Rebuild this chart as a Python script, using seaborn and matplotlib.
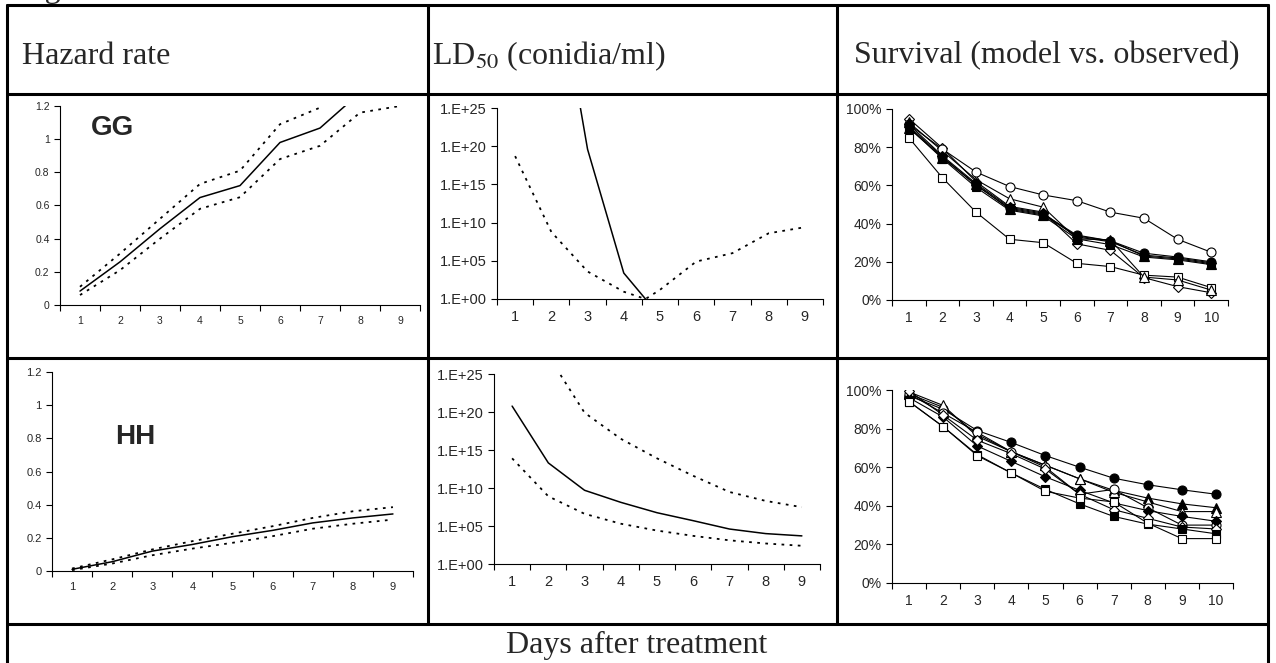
import numpy as np
import matplotlib
matplotlib.use('Agg')
import matplotlib.pyplot as plt
import seaborn as sns
from matplotlib.lines import Line2D
from matplotlib.ticker import NullLocator

W, H = 1276, 663

days9 = [1, 2, 3, 4, 5, 6, 7, 8, 9]
days10 = [1, 2, 3, 4, 5, 6, 7, 8, 9, 10]

# hazard rate (solid = estimate, dotted = CI)
gg_haz = [0.084, 0.26, 0.46, 0.648, 0.72, 0.98, 1.067, 1.28, 1.45]
gg_haz_hi = [0.11, 0.31, 0.52, 0.73, 0.81, 1.09, 1.19, 1.45, 1.7]
gg_haz_lo = [0.06, 0.21, 0.40, 0.58, 0.65, 0.88, 0.96, 1.16, 1.2]
hh_haz = [0.01, 0.056, 0.12, 0.16, 0.207, 0.245, 0.29, 0.32, 0.344]
hh_haz_hi = [0.015, 0.07, 0.13, 0.18, 0.225, 0.27, 0.32, 0.36, 0.385]
hh_haz_lo = [0.005, 0.045, 0.095, 0.135, 0.17, 0.21, 0.255, 0.285, 0.31]

# LD50 (conidia/ml)
gg_ld_days = [2, 3, 4, 4.6]
gg_ld = [1e47, 4e19, 2.5e3, 1.0]
gg_ld_ci_days = [1, 2, 3, 4, 4.6, 5, 6, 7, 8, 9]
gg_ld_ci = [5e18, 6e8, 4e3, 9.0, 1.0, 16, 8e4, 1e6, 4e8, 2.5e9]
hh_ld = [6e20, 2e13, 5e9, 1.3e8, 5.6e6, 5e5, 4e4, 1e4, 5e3]
hh_ld_hi = [1e36, 2.5e27, 8e19, 3e16, 8e13, 4e11, 3e9, 2e8, 3e7]
hh_ld_lo = [8e13, 8e8, 4e6, 2e5, 2.5e4, 5e3, 1.3e3, 500, 250]

# survival, GG (open = observed, filled = model)
gg_surv = {
    ('D', 'white'): [95, 79.5, 62, 49, 46, 29.4, 26, 11.7, 7, 3.8],
    ('s', 'white'): [85, 64, 46, 31.8, 30, 19.2, 17.5, 13, 12, 6.5],
    ('^', 'white'): [93, 78, 63, 53, 48.6, 32, 31.5, 12, 10.5, 5.2],
    ('o', 'white'): [92, 79, 67, 59.4, 55, 52, 46, 42.8, 31.8, 25],
    ('s', 'black'): [90.5, 74, 59, 47, 44, 32, 29, 22.5, 21, 18.5],
    ('o', 'black'): [91, 75, 60, 48, 45, 34, 31, 24.5, 22.5, 20],
    ('D', 'black'): [92, 75.5, 61, 48.5, 45.5, 33, 30.5, 23.5, 22, 19.5],
    ('^', 'black'): [90, 74.5, 60.5, 47.5, 44.5, 33.5, 31, 23, 21.5, 19],
}
hh_surv = {
    ('o', 'black'): [97, 90, 79, 72.8, 66, 60, 54.3, 50.9, 48.3, 46],
    ('^', 'black'): [98, 91, 77, 68, 61, 54, 48, 44, 41, 39],
    ('^', 'white'): [99, 92, 76, 68, 61, 54, 47, 42, 37, 37],
    ('o', 'white'): [98, 88, 78, 68, 60, 46, 48.5, 39, 30, 30],
    ('D', 'black'): [96, 86, 71, 63, 55, 48, 41.5, 37.5, 34.5, 32],
    ('D', 'white'): [99.5, 87, 74, 67, 59, 46, 38, 33.5, 29, 28],
    ('s', 'black'): [94, 81, 66.5, 57, 48.5, 41, 34.5, 30.5, 28, 25.5],
    ('s', 'white'): [94, 81, 66, 57, 47.5, 44, 42, 31, 23, 23],
}

sns.set_theme(style='ticks')
plt.rcParams['font.family'] = ['Liberation Sans', 'DejaVu Sans']
plt.rcParams['mathtext.fontset'] = 'stix'

fig = plt.figure(figsize=(W / 100, H / 100), dpi=100)
fig.patch.set_facecolor('white')

def add_ax(l, t, r, b):
    ax = fig.add_axes([l / W, 1 - b / H, (r - l) / W, (b - t) / H])
    ax.set_facecolor('white')
    sns.despine(ax=ax)
    for s in ['left', 'bottom']:
        ax.spines[s].set_color('black')
        ax.spines[s].set_linewidth(0.8)
    return ax

def cat_x(ax, n, fs):
    ax.set_xlim(0.5, n + 0.5)
    ax.set_xticks(range(1, n + 1))
    ax.set_xticklabels([str(i) for i in range(1, n + 1)], fontsize=fs)
    ax.set_xticks(np.arange(0.5, n + 1, 1), minor=True)
    ax.tick_params(axis='x', which='major', length=0, pad=8)
    ax.tick_params(axis='x', which='minor', length=4, width=0.8, direction='out', color='black')
    ax.tick_params(axis='y', length=4, width=0.8, direction='out', color='black')
    ax.set_xlabel('')
    ax.set_ylabel('')

dots = dict(color='black', lw=1.3, linestyle=(0, (1.5, 3)))
solid = dict(color='black', lw=1.1)

# hazard panels
for (l, t, r, b), mid, hi, lo, lab, lab_xy, fs in [
        ((60, 106, 420, 305), gg_haz, gg_haz_hi, gg_haz_lo, 'GG', (113, 128), 7.5),
        ((52, 372, 413, 571), hh_haz, hh_haz_hi, hh_haz_lo, 'HH', (135, 437), 8)]:
    ax = add_ax(l, t, r, b)
    sns.lineplot(x=days9, y=hi, ax=ax, **dots)
    sns.lineplot(x=days9, y=lo, ax=ax, **dots)
    sns.lineplot(x=days9, y=mid, ax=ax, **solid)
    ax.set_ylim(0, 1.2)
    ax.set_yticks([0, 0.2, 0.4, 0.6, 0.8, 1, 1.2])
    ax.set_yticklabels(['0', '0.2', '0.4', '0.6', '0.8', '1', '1.2'], fontsize=fs)
    cat_x(ax, 9, fs)
    fig.text(lab_xy[0] / W, 1 - lab_xy[1] / H, lab, fontsize=20, fontweight='bold',
             ha='center', va='center')

# LD50 panels
ld_ticks = [1, 1e5, 1e10, 1e15, 1e20, 1e25]
ld_labels = ['1.E+00', '1.E+05', '1.E+10', '1.E+15', '1.E+20', '1.E+25']

ax = add_ax(497, 108, 823, 299)
ax.set_yscale('log')
sns.lineplot(x=gg_ld_ci_days, y=gg_ld_ci, ax=ax, **dots)
sns.lineplot(x=gg_ld_days, y=gg_ld, ax=ax, **solid)
ax.set_ylim(1, 1e25)
ax.set_yticks(ld_ticks)
ax.set_yticklabels(ld_labels, fontsize=10.5)
ax.yaxis.set_minor_locator(NullLocator())
cat_x(ax, 9, 10.5)

ax = add_ax(494, 374, 820, 564)
ax.set_yscale('log')
sns.lineplot(x=days9, y=hh_ld_hi, ax=ax, **dots)
sns.lineplot(x=days9, y=hh_ld_lo, ax=ax, **dots)
sns.lineplot(x=days9, y=hh_ld, ax=ax, **solid)
ax.set_ylim(1, 1e25)
ax.set_yticks(ld_ticks)
ax.set_yticklabels(ld_labels, fontsize=10.5)
ax.yaxis.set_minor_locator(NullLocator())
cat_x(ax, 9, 10.5)

# survival panels
msize = {'o': 6.5, 's': 6, '^': 6.5, 'D': 5}
for (l, t, r, b), series in [((892, 109, 1228, 300), gg_surv),
                             ((892, 390, 1233, 583), hh_surv)]:
    ax = add_ax(l, t, r, b)
    for (m, fc), vals in series.items():
        sns.lineplot(x=days10, y=vals, ax=ax, color='black', lw=0.8,
                     marker=m, markersize=msize[m], markerfacecolor=fc,
                     markeredgecolor='black', markeredgewidth=0.8)
    ax.set_ylim(0, 100)
    ax.set_yticks([0, 20, 40, 60, 80, 100])
    ax.set_yticklabels(['0%', '20%', '40%', '60%', '80%', '100%'], fontsize=10)
    cat_x(ax, 10, 10)

# table frame
def hline(y, x0=7, x1=1268):
    fig.add_artist(Line2D([x0 / W, x1 / W], [1 - y / H, 1 - y / H], color='black', lw=2.2))

def vline(x, y0, y1):
    fig.add_artist(Line2D([x / W, x / W], [1 - y0 / H, 1 - y1 / H], color='black', lw=2.2))

for y in [5, 94, 358, 624]:
    hline(y)
vline(7, 5, 663)
vline(1268, 5, 663)
vline(428, 5, 624)
vline(837, 5, 624)

serif = ['Liberation Serif', 'DejaVu Serif']
hy = 1 - 56 / H
fig.text(22 / W, hy, 'Hazard rate', fontsize=23, family=serif, va='center')
fig.text(432 / W, hy, r'LD$_{\mathrm{50}}$ (conidia/ml)', fontsize=23, family=serif, va='center')
fig.text(854 / W, hy, 'Survival (model vs. observed)', fontsize=23, family=serif, va='center')
fig.text(637 / W, 1 - 645 / H, 'Days after treatment', fontsize=23, family=serif,
         ha='center', va='center')
# caption above the table, cut by the top edge as in the source
fig.text(18 / W, 1 + 3 / H, 'Figure', fontsize=23, family=serif, va='baseline')

fig.savefig('out.png', dpi=100)
